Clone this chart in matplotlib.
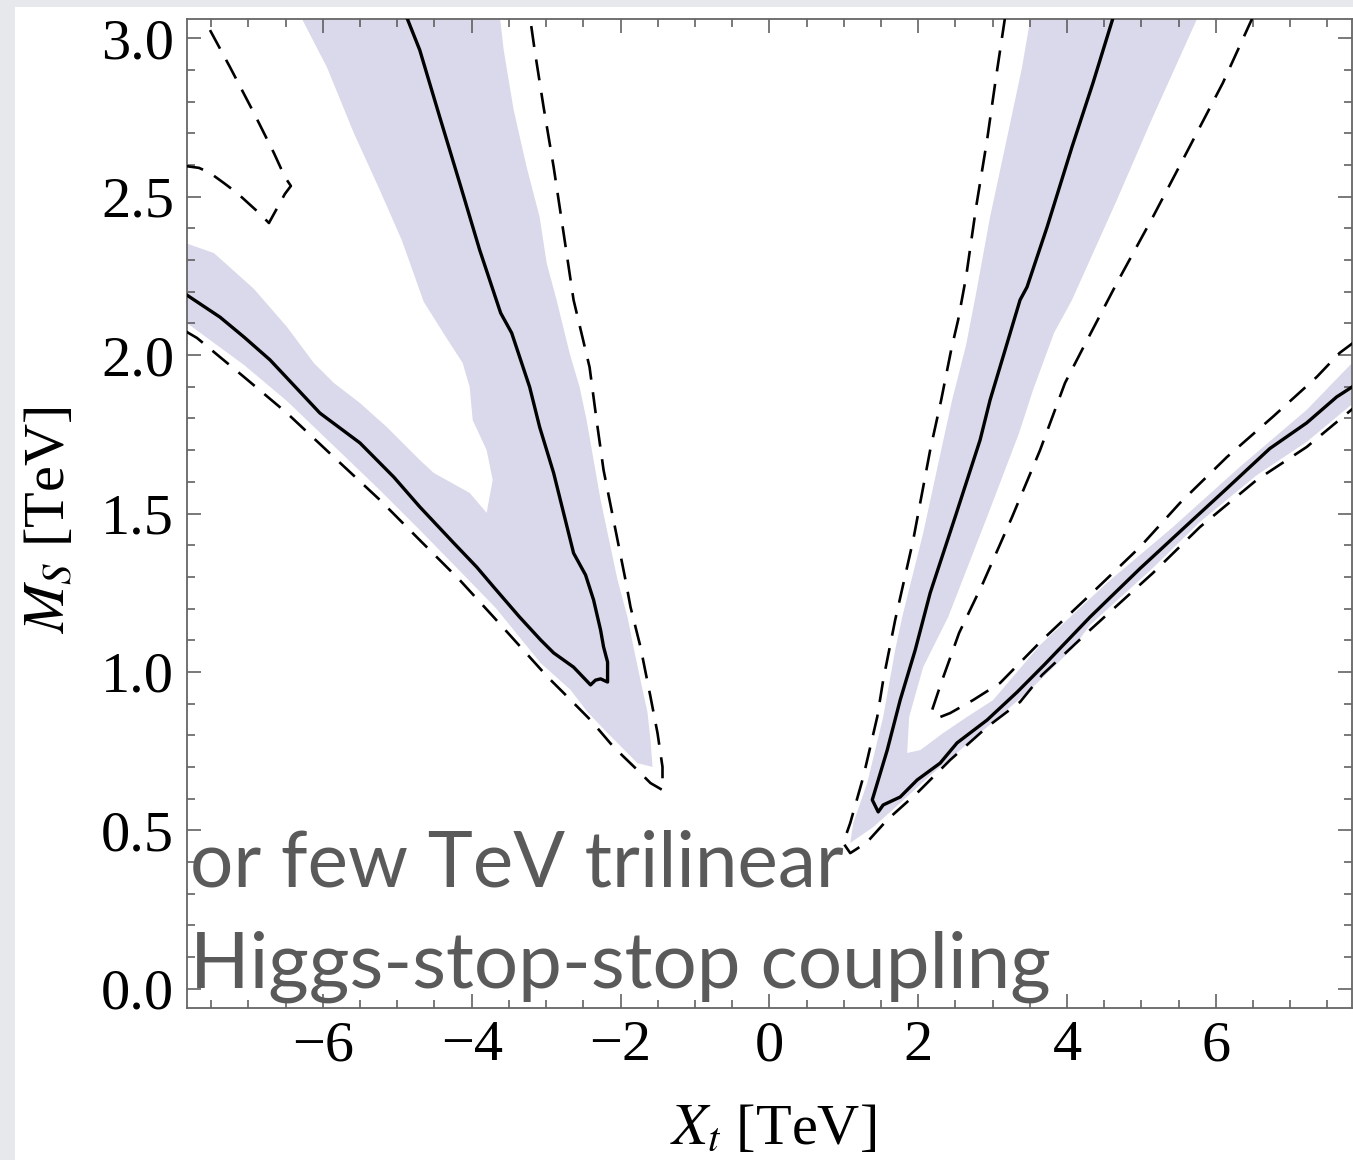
# Xt - Ms plane: contornos solidos/tracejados e faixa sombreada
import numpy as np
import matplotlib
matplotlib.use("Agg")
import matplotlib.pyplot as plt
from matplotlib.patches import Rectangle, Polygon
from matplotlib.ticker import MultipleLocator

plt.rcParams['font.family'] = 'Liberation Serif'
plt.rcParams['mathtext.fontset'] = 'stix'

# --- dados (TeV) ---
# contorno solido esquerdo (ramo inferior -> ponta -> ramo ingreme)
left_solid_x = [-7.85, -7.383, -7.060, -6.711, -6.040, -5.503, -5.047, -4.698, -4.242, -3.933, -3.705,
                -3.356, -3.074, -2.899, -2.631, -2.403, -2.336, -2.268, -2.174, -2.174, -2.228, -2.268,
                -2.362, -2.470, -2.631, -2.899, -3.087, -3.221, -3.463, -3.611, -3.893, -4.161, -4.430,
                -4.698, -4.886]
left_solid_y = [2.193, 2.120, 2.057, 1.985, 1.817, 1.723, 1.615, 1.521, 1.407, 1.331, 1.268,
                1.173, 1.101, 1.060, 1.015, 0.959, 0.974, 0.978, 0.968, 1.031, 1.079, 1.132,
                1.227, 1.306, 1.375, 1.628, 1.773, 1.899, 2.070, 2.133, 2.332, 2.543, 2.752,
                2.963, 3.074]

# contorno tracejado esquerdo (externo)
left_dash_x = [-7.85, -7.691, -7.060, -6.483, -5.852, -5.235, -4.698, -4.161, -3.705, -2.980, -2.711,
               -2.403, -2.094, -1.772, -1.597, -1.436, -1.436, -1.503, -1.597, -1.732, -1.866, -1.933,
               -2.228, -2.322, -2.416, -2.631, -2.765, -2.899, -3.034, -3.154, -3.221]
left_dash_y = [2.076, 2.054, 1.931, 1.817, 1.678, 1.543, 1.416, 1.290, 1.173, 0.984, 0.921,
               0.848, 0.763, 0.690, 0.649, 0.627, 0.700, 0.807, 0.921, 1.079, 1.205, 1.290,
               1.637, 1.795, 1.962, 2.174, 2.385, 2.594, 2.783, 2.963, 3.074]

# pequeno contorno tracejado no canto superior esquerdo
corner_dash_x = [-7.517, -7.248, -6.926, -6.658, -6.510, -6.430, -6.510, -6.725, -6.859, -7.154,
                 -7.329, -7.517, -7.664, -7.85]
corner_dash_y = [3.026, 2.909, 2.764, 2.638, 2.562, 2.534, 2.509, 2.417, 2.449, 2.512,
                 2.543, 2.575, 2.591, 2.597]

# regiao sombreada esquerda
left_band_x = [-7.85, -7.463, -6.926, -6.483, -6.121, -5.852, -5.503, -5.141, -4.698, -4.510, -4.027,
               -3.799, -3.718, -3.799, -3.987, -4.027, -4.121, -4.322, -4.644, -4.940, -5.235, -5.584,
               -5.946, -6.309, -3.624, -3.570, -3.436, -3.262, -3.087, -2.993, -2.859, -2.685, -2.550,
               -2.456, -2.268, -2.040, -1.906, -1.826, -1.732, -1.638, -1.597, -1.570, -1.772, -2.174,
               -2.443, -2.671, -3.074, -3.678, -4.161, -4.698, -5.235, -5.852, -6.483, -7.060, -7.85]
left_band_y = [2.354, 2.322, 2.209, 2.089, 1.975, 1.912, 1.849, 1.773, 1.669, 1.628, 1.565,
               1.502, 1.606, 1.700, 1.795, 1.899, 1.975, 2.048, 2.168, 2.363, 2.521, 2.701,
               2.909, 3.074, 3.074, 2.963, 2.774, 2.594, 2.436, 2.291, 2.174, 2.007, 1.899,
               1.795, 1.543, 1.290, 1.173, 1.079, 0.974, 0.873, 0.785, 0.700, 0.712, 0.807,
               0.873, 0.943, 1.028, 1.202, 1.319, 1.448, 1.574, 1.713, 1.855, 1.969, 2.105]

# contorno solido direito (ramo ingreme -> ponta -> ramo inferior)
right_solid_x = [4.631, 4.349, 4.067, 3.732, 3.463, 3.369, 3.168, 2.966, 2.832, 2.497, 2.161, 1.960,
                 1.758, 1.584, 1.383, 1.463, 1.530, 1.758, 1.987, 2.295, 2.523, 2.926, 3.329, 3.705,
                 4.309, 4.980, 5.611, 6.148, 6.725, 7.221, 7.624, 7.933]
right_solid_y = [3.074, 2.859, 2.657, 2.404, 2.215, 2.174, 2.016, 1.858, 1.732, 1.489, 1.249, 1.069,
                 0.911, 0.753, 0.596, 0.558, 0.580, 0.605, 0.659, 0.712, 0.776, 0.848, 0.936, 1.025,
                 1.173, 1.326, 1.463, 1.579, 1.705, 1.786, 1.868, 1.915]

# contorno tracejado direito externo
right_dash_x = [3.168, 3.047, 2.926, 2.779, 2.644, 2.537, 2.443, 2.309, 2.161, 1.933, 1.691, 1.530,
                1.450, 1.262, 1.087, 0.993, 1.087, 1.154, 1.315, 1.584, 1.987, 2.430, 2.926, 3.369,
                3.664, 4.309, 5.154, 5.785, 6.550, 7.221, 7.933]
right_dash_y = [3.067, 2.878, 2.679, 2.468, 2.247, 2.111, 2.016, 1.858, 1.700, 1.416, 1.164, 0.974,
                0.858, 0.668, 0.523, 0.460, 0.428, 0.438, 0.463, 0.533, 0.618, 0.722, 0.826, 0.905,
                0.990, 1.132, 1.312, 1.457, 1.606, 1.710, 1.849]

# contorno tracejado direito interno
inner_dash_x = [6.497, 6.094, 5.624, 5.154, 4.671, 4.201, 3.973, 3.638, 3.262, 2.872, 2.550, 2.309,
                2.188, 2.268, 2.430, 2.738, 3.101, 3.664, 4.309, 4.980, 5.517, 6.148, 6.765, 7.356,
                7.664, 7.933]
inner_dash_y = [3.067, 2.859, 2.647, 2.436, 2.228, 2.016, 1.912, 1.700, 1.489, 1.281, 1.123, 0.965,
                0.880, 0.855, 0.870, 0.911, 0.965, 1.100, 1.243, 1.394, 1.533, 1.678, 1.805, 1.931,
                2.007, 2.054]

# regiao sombreada direita
right_band_x = [3.517, 3.396, 3.208, 2.966, 2.779, 2.644, 2.456, 2.309, 2.067, 1.785, 1.691, 1.530,
                1.315, 1.128, 1.087, 1.396, 1.758, 2.201, 2.564, 3.007, 3.503, 4.081, 4.309, 5.154,
                5.785, 6.550, 7.221, 7.933, 7.933, 7.221, 6.322, 5.423, 4.537, 3.638, 3.007, 2.658,
                2.336, 2.027, 1.852, 1.879, 2.067, 2.403, 2.926, 3.356, 3.544, 3.826, 4.067, 4.671,
                5.154, 5.772]
right_band_y = [3.074, 2.909, 2.701, 2.436, 2.196, 2.032, 1.858, 1.700, 1.438, 1.173, 1.069, 0.858,
                0.649, 0.523, 0.460, 0.510, 0.586, 0.681, 0.753, 0.842, 0.943, 1.075, 1.148, 1.328,
                1.473, 1.621, 1.726, 1.865, 2.000, 1.827, 1.647, 1.457, 1.281, 1.085, 0.911, 0.858,
                0.807, 0.753, 0.744, 0.858, 1.015, 1.173, 1.489, 1.754, 1.890, 2.070, 2.174, 2.490,
                2.752, 3.074]

x_ticks = [-6, -4, -2, 0, 2, 4, 6]
y_ticks = [0.0, 0.5, 1.0, 1.5, 2.0, 2.5, 3.0]
note_lines = ['or few TeV trilinear', 'Higgs-stop-stop coupling']

W, H = 1353, 1160
fig = plt.figure(figsize=(W / 100, H / 100), dpi=100)
fig.patch.set_facecolor('#e6e8ec')
fig.add_artist(Rectangle((15 / W, 0), 1, (H - 7) / H, transform=fig.transFigure,
                         facecolor='white', edgecolor='none', zorder=0))

ax = fig.add_axes([186.7 / W, (H - 1008) / H, (1352 - 186.7) / W, (1008 - 19) / H])
ax.set_xlim(-7.83, 7.83)
ax.set_ylim(-0.061, 3.061)

shade = '#d9d9eb'
ax.add_patch(Polygon(np.column_stack([left_band_x, left_band_y]), closed=True,
                     facecolor=shade, edgecolor='none', zorder=1))
ax.add_patch(Polygon(np.column_stack([right_band_x, right_band_y]), closed=True,
                     facecolor=shade, edgecolor='none', zorder=1))

ax.plot(left_solid_x, left_solid_y, color='black', lw=2.4, zorder=3)
ax.plot(right_solid_x, right_solid_y, color='black', lw=2.4, zorder=3)
for xs, ys in [(left_dash_x, left_dash_y), (corner_dash_x, corner_dash_y),
               (right_dash_x, right_dash_y), (inner_dash_x, inner_dash_y)]:
    ax.plot(xs, ys, color='black', lw=1.9, dashes=(8, 4.8), zorder=3)

# eixos
ax.set_xticks(x_ticks)
ax.set_xticklabels([f'{t:d}' if t >= 0 else '\u2212' + str(-t) for t in x_ticks])
ax.set_yticks(y_ticks)
ax.set_yticklabels([f'{t:.1f}' for t in y_ticks])
ax.xaxis.set_minor_locator(MultipleLocator(0.5))
ax.yaxis.set_minor_locator(MultipleLocator(0.1))
ax.tick_params(which='both', direction='in', top=True, right=True, color='#555555', width=1.1)
ax.tick_params(which='major', length=10, labelsize=42, pad=9)
ax.tick_params(which='minor', length=6)
for s in ax.spines.values():
    s.set_color('#666666')
    s.set_linewidth(1.3)

ax.set_xlabel(r'$X_t$ [TeV]', fontsize=42)
ax.xaxis.set_label_coords(0.503, -0.097)
ax.set_ylabel(r'$M_S$ [TeV]', fontsize=42)
ax.yaxis.set_label_coords(-0.094, 0.493)

# texto sobreposto
renderer = fig.canvas.get_renderer()
t1 = ax.text(-7.78, 0.321, note_lines[0], fontfamily='Lato', color='#5a5a5a', fontsize=60, zorder=5)
t2 = ax.text(-7.78, 0.002, note_lines[1], fontfamily='Lato', color='#5a5a5a', fontsize=60, zorder=5)
for t, target in [(t1, 655), (t2, 862)]:
    w = t.get_window_extent(renderer).width
    t.set_fontsize(60 * target / w)

fig.savefig('out.png', dpi=100, facecolor=fig.get_facecolor())
